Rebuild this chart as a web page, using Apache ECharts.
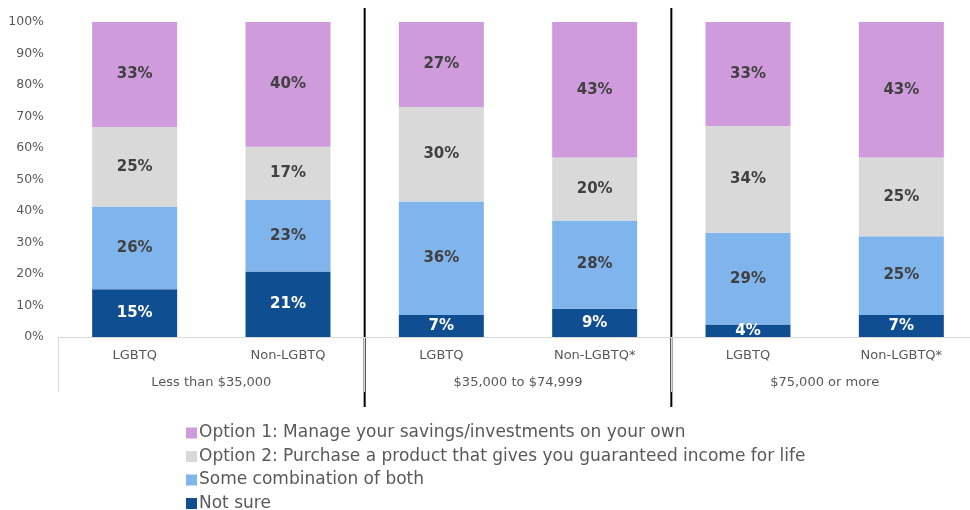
<!DOCTYPE html>
<html>
<head>
<meta charset="utf-8">
<script src="https://cdn.jsdelivr.net/npm/echarts@6/dist/echarts.min.js"></script>
<style>
html,body{margin:0;padding:0;background:#fff}
#chart{width:970px;height:510px}
</style>
</head>
<body>
<div id="chart"></div>
<script>
var categories = ['LGBTQ','Non-LGBTQ','LGBTQ','Non-LGBTQ*','LGBTQ','Non-LGBTQ*'];
var groups = ['Less than $35,000','$35,000 to $74,999','$75,000 or more'];
var yTicks = [0,10,20,30,40,50,60,70,80,90,100];

// percent values per answer, bottom of stack first
var notSure = [15,21,7,9,4,7];
var combo = [26,23,36,28,29,25];
var option2 = [25,17,30,20,34,25];
var option1 = [33,40,27,43,33,43];

var names = ['Not sure','Some combination of both',
	'Option 2: Purchase a product that gives you guaranteed income for life',
	'Option 1: Manage your savings/investments on your own'];
var colors = ['#104e92','#80b4ec','#d9d9d9','#cf9bdd'];
var raw = [notSure, combo, option2, option1];

// excel 100% stacked: every bar is scaled to its own total
var totals = categories.map(function(c, i){
	return notSure[i] + combo[i] + option2[i] + option1[i];
});

var font = 'DejaVu Sans';
var my_chart = echarts.init(document.getElementById('chart'));

var series = raw.map(function(vals, s){
	return {
		name: names[s],
		type: 'bar',
		stack: 'all',
		barWidth: 85,
		xAxisIndex: 0,
		itemStyle: {color: colors[s]},
		label: {
			show: true,
			position: 'inside',
			fontFamily: font,
			fontWeight: 'bold',
			fontSize: 15,
			color: s == 0 ? '#ffffff' : '#404040',
			formatter: function(p){ return raw[s][p.dataIndex] + '%'; }
		},
		data: vals.map(function(v, i){ return v / totals[i] * 100; })
	};
});

my_chart.setOption({
	animation: false,
	grid: {left: 58, top: 22, width: 920, bottom: 173, outerBoundsMode: 'none'},
	legend: {
		orient: 'vertical',
		left: 186,
		top: 424,
		height: 100,
		padding: 0,
		itemWidth: 11,
		itemHeight: 11,
		itemGap: 5.5,
		icon: 'rect',
		textStyle: {fontFamily: font, fontSize: 17, lineHeight: 18, color: '#595959', padding: [0,0,0,-3]},
		data: [names[3], names[2], names[1], names[0]]
	},
	xAxis: [
		{
			type: 'category',
			data: categories,
			position: 'bottom',
			axisLine: {show: true, lineStyle: {color: '#d9d9d9', width: 1}},
			axisTick: {show: false},
			axisLabel: {fontFamily: font, fontSize: 13, color: '#595959', margin: 12}
		},
		{
			type: 'category',
			data: groups,
			position: 'bottom',
			gridIndex: 0,
			axisLine: {show: false},
			axisTick: {show: true, length: 55, lineStyle: {color: '#d9d9d9'}},
			axisLabel: {fontFamily: font, fontSize: 13, color: '#595959', margin: 39},
			splitLine: {show: false}
		}
	],
	yAxis: {
		type: 'value',
		min: 0,
		max: 100,
		interval: 10,
		axisLine: {show: false},
		axisTick: {show: false},
		splitLine: {show: false},
		axisLabel: {
			fontFamily: font, fontSize: 12.5, color: '#595959', margin: 14,
			formatter: function(v){ return yTicks.indexOf(v) >= 0 ? v + '%' : ''; }
		}
	},
	series: series
});

// black separators between income groups
var seps = [];
[1, 3].forEach(function(i){
	var x = (my_chart.convertToPixel({xAxisIndex: 0}, i) + my_chart.convertToPixel({xAxisIndex: 0}, i + 1)) / 2;
	seps.push({
		type: 'line',
		shape: {x1: x, y1: 8, x2: x, y2: 407},
		style: {stroke: '#000000', lineWidth: 2}
	});
});
my_chart.setOption({graphic: seps});
</script>
</body>
</html>
